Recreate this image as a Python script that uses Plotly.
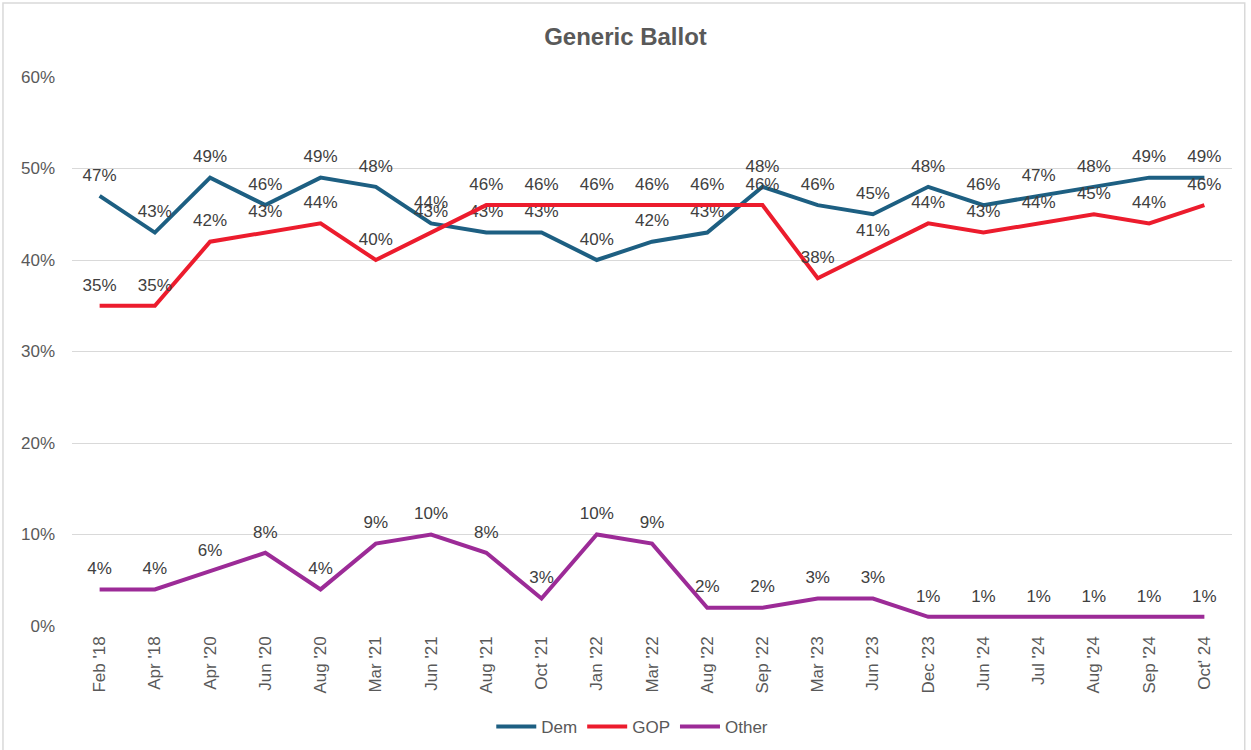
import plotly.graph_objects as go

months = ["Feb '18", "Apr '18", "Apr '20", "Jun '20", "Aug '20", "Mar '21", "Jun '21",
          "Aug '21", "Oct '21", "Jan '22", "Mar '22", "Aug '22", "Sep '22", "Mar '23",
          "Jun '23", "Dec '23", "Jun '24", "Jul '24", "Aug '24", "Sep '24", "Oct' 24"]
dem = [47, 43, 49, 46, 49, 48, 44, 43, 43, 40, 42, 43, 48, 46, 45, 48, 46, 47, 48, 49, 49]
gop = [35, 35, 42, 43, 44, 40, 43, 46, 46, 46, 46, 46, 46, 38, 41, 44, 43, 44, 45, 44, 46]
other = [4, 4, 6, 8, 4, 9, 10, 8, 3, 10, 9, 2, 2, 3, 3, 1, 1, 1, 1, 1, 1]

series = [("Dem", dem, "#1d5f82"), ("GOP", gop, "#ec1c2d"), ("Other", other, "#9c2b97")]

fig = go.Figure()
for name, vals, color in series:
    fig.add_trace(go.Scatter(
        x=months,
        y=[v / 100 for v in vals],
        name=name,
        mode="lines+markers+text",
        line=dict(color=color, width=4),
        marker=dict(size=16, color="rgba(0,0,0,0)"),
        text=[f"{v}%" for v in vals],
        textposition="top center",
        textfont=dict(size=17, color="#404040"),
        hoverinfo="skip",
    ))

fig.update_layout(
    width=1251, height=750,
    paper_bgcolor="white", plot_bgcolor="white",
    font=dict(family="Liberation Sans, Arial, sans-serif", color="#595959"),
    title=dict(text="<b>Generic Ballot</b>", x=0.5, xanchor="center", y=1 - 37 / 750, yanchor="middle",
               font=dict(size=24, color="#595959", family="Liberation Sans, Arial")),
    margin=dict(l=72, r=19, t=77, b=124, autoexpand=False),
    showlegend=True,
    legend=dict(orientation="h", x=0.483, xanchor="center", y=-0.184, yanchor="middle",
                font=dict(size=17, color="#595959"), itemwidth=40, tracegroupgap=0),
    xaxis=dict(tickangle=-90, showgrid=False, ticks="", tickfont=dict(size=17, color="#595959"),
               range=[-0.5, len(months) - 0.5], showline=False, automargin=False,
               ticklabelstandoff=6),
    yaxis=dict(range=[0, 0.6], dtick=0.1, tickformat=".0%", showgrid=True, gridcolor="#d9d9d9",
               gridwidth=1, zeroline=False, ticks="", ticklabelstandoff=16, automargin=False,
               tickfont=dict(size=17, color="#595959")),
    shapes=[dict(type="rect", xref="paper", yref="paper", x0=-0.0595, x1=1.011, y0=-0.25, y1=1.1348,
                 line=dict(color="#d9d9d9", width=1.5), layer="below")],
)

# page body has a default 8px margin; drop it so the figure sits at the window's corner
fig.write_html("out.html", config={"displayModeBar": False},
               post_script="document.body.style.margin='0';")
